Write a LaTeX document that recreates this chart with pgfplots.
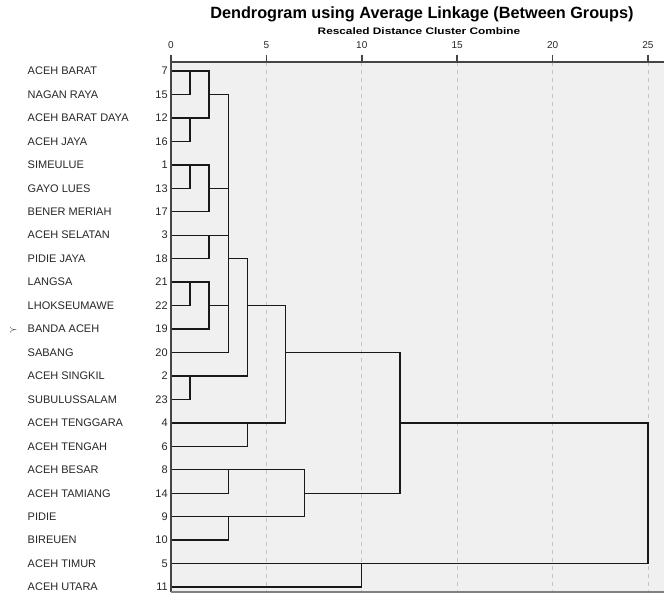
\documentclass[border=0pt]{standalone}
\usepackage{pgfplots}
\pgfplotsset{compat=1.18}
\usepackage{fontspec}
\setmainfont{Liberation Sans}
\newfontfamily\widefont{Liberation Sans}[FakeStretch=1.25]
\definecolor{bg}{HTML}{F0F0F0}
\definecolor{gridc}{HTML}{C4C4C4}
\definecolor{axc}{HTML}{454545}
\newcommand{\lab}[2]{\hbox to 105pt{#1\hfill #2}}
\pgfplotsset{dend/.style={black!90, line width=1pt, solid, mark=none, line join=miter}}
\begin{document}
\begin{tikzpicture}
\path[use as bounding box] (0,0) rectangle (498pt,446.25pt);
\begin{axis}[
 at={(128.25pt,399.75pt)}, anchor=north west,
 scale only axis, width=369.75pt, height=397.5pt,
 xmin=0, xmax=25.84, ymin=0.616, ymax=23.21, y dir=reverse,
 axis background/.style={fill=bg},
 axis line style={draw=none},
 xtick={0,5,...,25}, xtick pos=upper, xticklabel pos=upper,
 tick align=outside, major tick length=5.25pt,
 x tick style={axc, line width=1.2pt},
 xmajorgrids, grid style={gridc, dash pattern=on 3pt off 3pt, line width=0.6pt},
 ytick={1,...,23}, ytick pos=left, y tick style={draw=none},
 yticklabels={
  {\lab{ACEH BARAT}{7}},
  {\lab{NAGAN RAYA}{15}},
  {\lab{ACEH BARAT DAYA}{12}},
  {\lab{ACEH JAYA}{16}},
  {\lab{SIMEULUE}{1}},
  {\lab{GAYO LUES}{13}},
  {\lab{BENER MERIAH}{17}},
  {\lab{ACEH SELATAN}{3}},
  {\lab{PIDIE JAYA}{18}},
  {\lab{LANGSA}{21}},
  {\lab{LHOKSEUMAWE}{22}},
  {\lab{\llap{{\fontsize{7}{7}\selectfont$\succ$}\kern 7.5pt}BANDA ACEH}{19}},
  {\lab{SABANG}{20}},
  {\lab{ACEH SINGKIL}{2}},
  {\lab{SUBULUSSALAM}{23}},
  {\lab{ACEH TENGGARA}{4}},
  {\lab{ACEH TENGAH}{6}},
  {\lab{ACEH BESAR}{8}},
  {\lab{ACEH TAMIANG}{14}},
  {\lab{PIDIE}{9}},
  {\lab{BIREUEN}{10}},
  {\lab{ACEH TIMUR}{5}},
  {\lab{ACEH UTARA}{11}}},
 yticklabel style={anchor=east, inner sep=0pt, xshift=3pt, font=\fontsize{8.25}{9}\selectfont, text=black!85},
 xticklabel style={font=\fontsize{7.5}{9}\selectfont, text=black!85, yshift=1pt},
 /pgf/number format/assume math mode=true,
 clip=false,
]
\addplot[dend] coordinates {(0,1) (2,1) (2,3) (0,3)};
\addplot[dend] coordinates {(0,2) (1,2) (1,1)};
\addplot[dend] coordinates {(0,4) (1,4) (1,3)};
\addplot[dend] coordinates {(2,2) (3,2)};
\addplot[dend] coordinates {(0,5) (2,5) (2,7) (0,7)};
\addplot[dend] coordinates {(0,6) (1,6) (1,5)};
\addplot[dend] coordinates {(2,6) (3,6)};
\addplot[dend] coordinates {(0,13) (3,13) (3,2)};
\addplot[dend] coordinates {(0,8) (3,8)};
\addplot[dend] coordinates {(2,8) (2,9) (0,9)};
\addplot[dend] coordinates {(0,10) (2,10) (2,12) (0,12)};
\addplot[dend] coordinates {(0,11) (1,11) (1,10)};
\addplot[dend] coordinates {(2,11) (3,11)};
\addplot[dend] coordinates {(3,9) (4,9) (4,14) (0,14)};
\addplot[dend] coordinates {(0,15) (1,15) (1,14)};
\addplot[dend] coordinates {(4,11) (6,11) (6,16) (0,16)};
\addplot[dend] coordinates {(0,17) (4,17) (4,16)};
\addplot[dend] coordinates {(6,13) (12,13) (12,19) (7,19)};
\addplot[dend] coordinates {(0,18) (7,18) (7,20) (0,20)};
\addplot[dend] coordinates {(0,19) (3,19) (3,18)};
\addplot[dend] coordinates {(0,21) (3,21) (3,20)};
\addplot[dend] coordinates {(12,16) (25,16) (25,22) (0,22)};
\addplot[dend] coordinates {(0,23) (10,23) (10,22)};
\draw[axc, line width=1.5pt] (axis description cs:0,0) -- (axis description cs:0,1) -- (axis description cs:1,1);
\draw[gray, line width=1.5pt] (axis description cs:0,0) -- (axis description cs:1,0);
\node[font=\bfseries\fontsize{12.2}{14}\selectfont] at (axis description cs:0.509,1.0906) {Dendrogram using Average Linkage (Between Groups)};
\node[font=\widefont\bfseries\fontsize{7.1}{8}\selectfont] at (axis description cs:0.503,1.0585) {Rescaled Distance Cluster Combine};
\end{axis}
\end{tikzpicture}
\end{document}
